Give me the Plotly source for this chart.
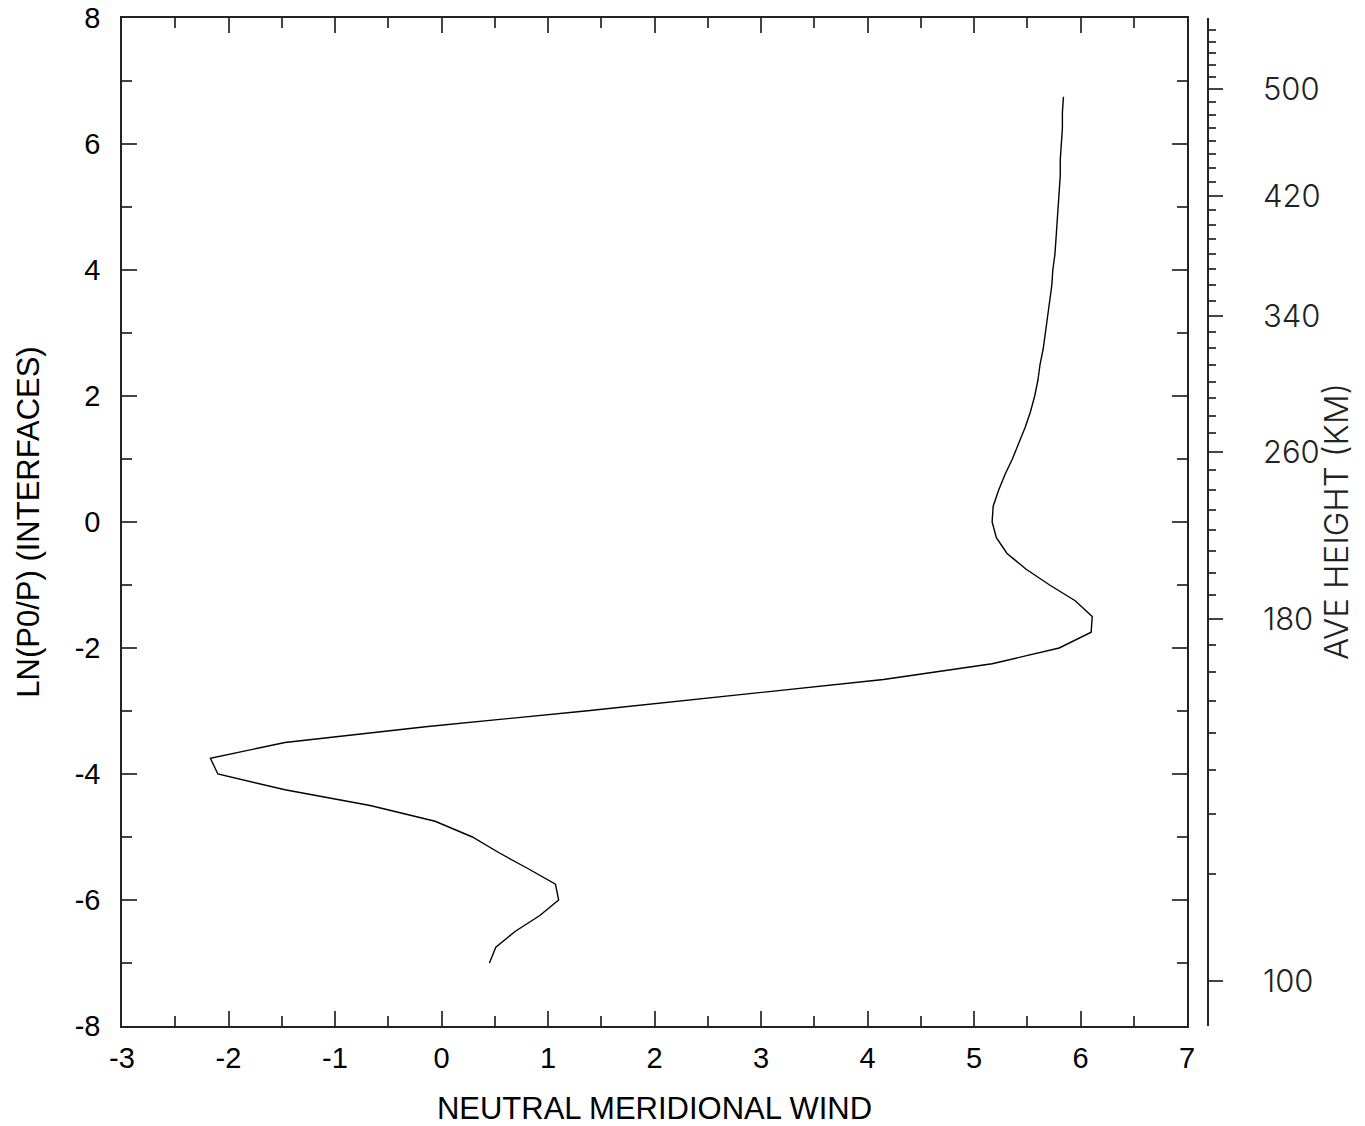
import plotly.graph_objects as go

# ---- data ----
ln_levels = [-7.0, -6.75, -6.5, -6.25, -6.0, -5.75, -5.5, -5.25, -5.0, -4.75,
             -4.5, -4.25, -4.0, -3.75, -3.5, -3.25, -3.0, -2.75, -2.5, -2.25,
             -2.0, -1.75, -1.5, -1.25, -1.0, -0.75, -0.5, -0.25, 0.0, 0.25,
             0.5, 0.75, 1.0, 1.25, 1.5, 1.75, 2.0, 2.25, 2.5, 2.75,
             3.0, 3.25, 3.5, 3.75, 4.0, 4.25, 4.5, 4.75, 5.0, 5.25,
             5.5, 5.75, 6.0, 6.25, 6.5, 6.75]
wind = [0.45, 0.51, 0.69, 0.92, 1.10, 1.07, 0.81, 0.54, 0.29, -0.06,
        -0.67, -1.47, -2.10, -2.17, -1.47, -0.15, 1.35, 2.75, 4.15, 5.17,
        5.80, 6.10, 6.11, 5.95, 5.71, 5.49, 5.31, 5.21, 5.17, 5.18,
        5.23, 5.29, 5.36, 5.42, 5.48, 5.53, 5.57, 5.60, 5.62, 5.65,
        5.67, 5.69, 5.71, 5.73, 5.74, 5.76, 5.77, 5.78, 5.79, 5.80,
        5.81, 5.81, 5.82, 5.83, 5.83, 5.84]

x_ticks = [-3, -2, -1, 0, 1, 2, 3, 4, 5, 6, 7]
y_ticks = [-8, -6, -4, -2, 0, 2, 4, 6, 8]

# right axis: average height (km) and its position in LN(P0/P) units
height_km = [100, 110, 120, 130, 140, 150, 160, 170, 180, 190,
             200, 210, 220, 230, 240, 250, 260, 270, 280, 290,
             300, 310, 320, 330, 340, 350, 360, 370, 380, 390,
             400, 410, 420, 430, 440, 450, 460, 470, 480, 490,
             500, 510, 520, 530, 540, 550]
height_ln = [-7.286, -5.587, -4.635, -3.937, -3.349, -2.841, -2.381, -1.952, -1.540, -1.159,
             -0.810, -0.460, -0.127, 0.190, 0.508, 0.825, 1.111, 1.413, 1.683, 1.968,
             2.222, 2.492, 2.762, 3.016, 3.270, 3.508, 3.762, 4.016, 4.254, 4.492,
             4.714, 4.952, 5.175, 5.397, 5.619, 5.841, 6.048, 6.254, 6.460, 6.667,
             6.873, 7.063, 7.254, 7.444, 7.627, 7.810]
major_heights = [100, 180, 260, 340, 420, 500]

major_vals = [height_ln[height_km.index(h)] for h in major_heights]
major_text = [str(h) for h in major_heights]

W, H = 1365, 1126
L, R, T, B = 122, 100, 18, 100
paper_w = W - L - R
x_dom_end = (1187 - L) / paper_w
y2_pos = (1208 - L) / paper_w

sans = "Liberation Sans, Arial, sans-serif"
thin = "Inter, DejaVu Sans Mono, monospace"

fig = go.Figure()
fig.add_trace(go.Scatter(x=wind, y=ln_levels, mode="lines",
                         line=dict(color="black", width=1.4),
                         showlegend=False, hoverinfo="skip"))
fig.add_trace(go.Scatter(x=wind, y=ln_levels, mode="lines", yaxis="y2",
                         line=dict(color="rgba(0,0,0,0)", width=0),
                         showlegend=False, hoverinfo="skip"))

axis_common = dict(showline=True, linecolor="#222", linewidth=1.5, mirror="ticks",
                   ticks="inside", tickcolor="#444", tickwidth=1.5,
                   showgrid=False, zeroline=False, automargin=False,
                   ticklabeloverflow="allow",
                   tickfont=dict(family=sans, size=29, color="black"))

fig.update_layout(
    width=W, height=H,
    margin=dict(l=L, r=R, t=T, b=B, autoexpand=False),
    paper_bgcolor="white", plot_bgcolor="white",
    xaxis=dict(range=[-3, 7], domain=[0, x_dom_end], tickmode="array",
               tickvals=x_ticks, ticktext=[str(v) for v in x_ticks],
               ticklen=15,
               minor=dict(dtick=0.5, tick0=-3, ticklen=10, ticks="inside",
                          tickcolor="#444", tickwidth=1.5, showgrid=False),
               ticklabelstandoff=5,
               title=dict(text="NEUTRAL MERIDIONAL WIND", standoff=25,
                          font=dict(family=sans, size=31, color="black")),
               **axis_common),
    yaxis=dict(range=[-8, 8], tickmode="array",
               tickvals=y_ticks, ticktext=[str(v) for v in y_ticks],
               ticklen=15,
               minor=dict(dtick=1, tick0=-8, ticklen=10, ticks="inside",
                          tickcolor="#444", tickwidth=1.5, showgrid=False),
               ticklabelstandoff=14,
               title=dict(text="LN(P0/P) (INTERFACES)", standoff=26,
                          font=dict(family=sans, size=31, color="black")),
               **axis_common),
    yaxis2=dict(range=[-8, 8], overlaying="y", side="right", anchor="free",
                position=y2_pos, showline=True, linecolor="#222", linewidth=1.5,
                showgrid=False, zeroline=False, automargin=False,
                ticklabeloverflow="allow",
                tickmode="array", tickvals=major_vals, ticktext=major_text,
                ticks="outside", ticklen=14, tickcolor="#444", tickwidth=1.5,
                minor=dict(tickmode="array", tickvals=height_ln, ticks="outside",
                           ticklen=7, tickcolor="#444", tickwidth=1.5, showgrid=False),
                ticklabelstandoff=34,
                tickfont=dict(family=thin, size=31, color="#222", weight=300)),
)

fig.add_annotation(text="AVE HEIGHT (KM)", xref="paper", yref="paper",
                   x=(1336 - L) / paper_w, y=0.5, xanchor="center", yanchor="middle",
                   textangle=-90, showarrow=False,
                   font=dict(family=thin, size=33, color="#222", weight=300))

fig.write_html("out.html", config={"displayModeBar": False},
               post_script="document.body.style.margin='0';document.body.style.overflow='hidden';")
